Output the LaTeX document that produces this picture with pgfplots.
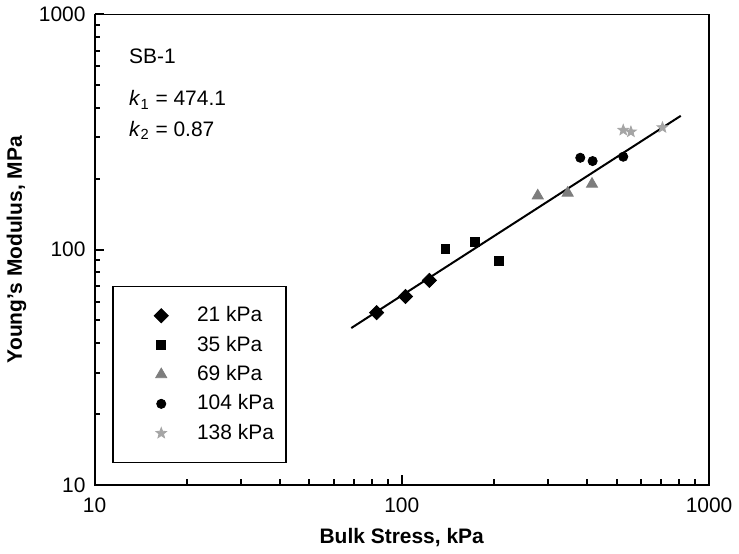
\documentclass[border=0pt]{standalone}
\usepackage{fontspec}
\setmainfont{Liberation Sans}
\usepackage{pgfplots}
\pgfplotsset{compat=1.18}

\definecolor{tri}{RGB}{125,125,125}
\definecolor{star}{RGB}{165,165,165}

% filled five-point star
\pgfdeclareplotmark{fstar}{%
  \pgfpathmoveto{\pgfpointpolar{90}{\pgfplotmarksize}}%
  \pgfpathlineto{\pgfpointpolar{126}{0.42\pgfplotmarksize}}%
  \pgfpathlineto{\pgfpointpolar{162}{\pgfplotmarksize}}%
  \pgfpathlineto{\pgfpointpolar{198}{0.42\pgfplotmarksize}}%
  \pgfpathlineto{\pgfpointpolar{234}{\pgfplotmarksize}}%
  \pgfpathlineto{\pgfpointpolar{270}{0.42\pgfplotmarksize}}%
  \pgfpathlineto{\pgfpointpolar{306}{\pgfplotmarksize}}%
  \pgfpathlineto{\pgfpointpolar{342}{0.42\pgfplotmarksize}}%
  \pgfpathlineto{\pgfpointpolar{18}{\pgfplotmarksize}}%
  \pgfpathlineto{\pgfpointpolar{54}{0.42\pgfplotmarksize}}%
  \pgfpathclose
  \pgfusepathqfillstroke
}

\begin{document}
\begin{tikzpicture}
\begin{axis}[
  scale only axis,
  width=308pt, height=236pt,
  xmode=log, ymode=log,
  xmin=10, xmax=1000, ymin=10, ymax=1000,
  log ticks with fixed point,
  /pgf/number format/1000 sep={},
  /pgf/number format/assume math mode=true,
  xtick pos=bottom, ytick pos=left,
  xtick align=inside, ytick align=inside,
  major tick length=5pt, minor tick length=3pt,
  tick style={black, line width=1pt},
  tick label style={font=\fontsize{10.5}{12}\selectfont},
  xticklabel style={yshift=-3pt},
  yticklabel style={xshift=-1pt},
  xlabel={\textbf{Bulk Stress, kPa}},
  ylabel={\textbf{Young's Modulus, MPa}},
  label style={font=\fontsize{10.5}{12}\selectfont},
  xlabel style={at={(axis description cs:0.5,-0.112)}, anchor=center},
  ylabel style={at={(axis description cs:-0.127,0.5)}, anchor=center},
  legend style={at={(axis description cs:0.029,0.047)}, anchor=south west,
    draw=black, line width=0.6pt, inner xsep=4pt, inner ysep=8pt,
    font=\fontsize{10.5}{12}\selectfont, row sep=1.6pt},
  legend cell align=left,
  legend image code/.code={
    \path (-0.7cm,0cm) (0.55cm,0cm);
    \draw[#1, line width=0.4pt] plot coordinates {(0cm,0cm)};
  },
]
% frame and inward ticks on the left and bottom
\draw[line width=1pt] (rel axis cs:0,0) rectangle (rel axis cs:1,1);
\pgfplotsinvokeforeach{20,30,40,50,60,70,80,90,200,300,400,500,600,700,800,900}{
  \draw[line width=1pt] (axis cs:#1,10) -- ([yshift=3pt]axis cs:#1,10);
  \draw[line width=1pt] (axis cs:10,#1) -- ([xshift=3pt]axis cs:10,#1);
}
\draw[line width=1pt] (axis cs:100,10) -- ([yshift=5pt]axis cs:100,10);
\draw[line width=1pt] (axis cs:10,100) -- ([xshift=5pt]axis cs:10,100);

\addplot[only marks, mark=square*, mark options={rotate=45}, mark size=2.5pt, black] coordinates {
  (82.8,53.9) (102.8,63.2) (123,73.9)
};
\addlegendentry{21 kPa}
\addplot[only marks, mark=square*, mark size=2.2pt, black] coordinates {
  (138.7,100.7) (172.6,107.4) (207.6,89.2)
};
\addlegendentry{35 kPa}
\addplot[only marks, mark=triangle*, mark size=3.2pt, tri] coordinates {
  (277,169.3) (346.7,173.9) (416,189.8)
};
\addlegendentry{69 kPa}
\addplot[only marks, mark=*, mark size=2.3pt, black] coordinates {
  (381,245.3) (417.9,237.5) (525.7,247.8)
};
\addlegendentry{104 kPa}
\addplot[only marks, mark=fstar, mark size=2.8pt, star] coordinates {
  (525.7,321.5) (556.8,316.2) (705.4,329.8)
};
\addlegendentry{138 kPa}
\addplot[black, line width=1pt, forget plot] coordinates {
  (68.5,46.4) (809,369.7)
};
\node[anchor=west, font=\fontsize{10.5}{12}\selectfont] at (axis description cs:0.045,0.911) {SB-1};
\node[anchor=west, font=\fontsize{10.5}{12}\selectfont] at (axis description cs:0.045,0.818) {\textit{k}\textsubscript{1} = 474.1};
\node[anchor=west, font=\fontsize{10.5}{12}\selectfont] at (axis description cs:0.045,0.753) {\textit{k}\textsubscript{2} = 0.87};
\end{axis}
\end{tikzpicture}
\end{document}
